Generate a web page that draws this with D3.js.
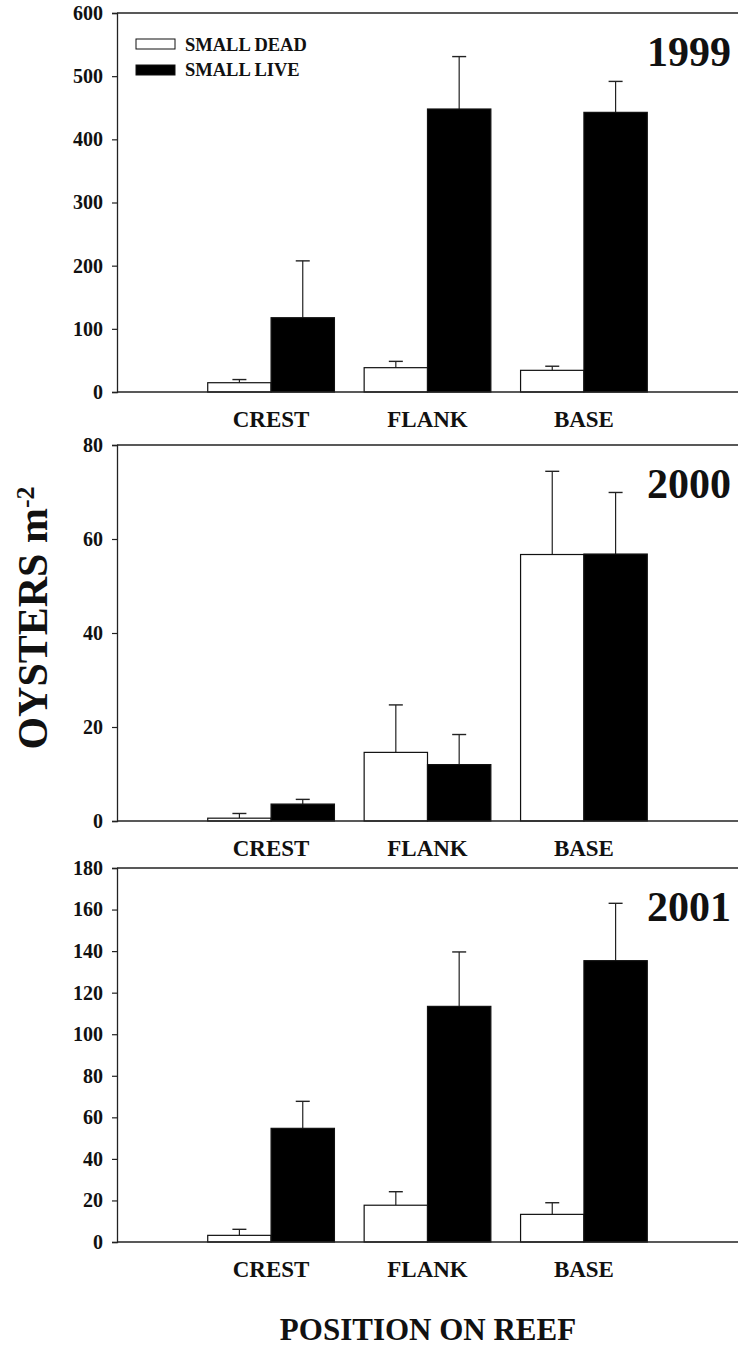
<!DOCTYPE html>
<html>
<head>
<meta charset="utf-8">
<script src="https://cdn.jsdelivr.net/npm/d3@7"></script>
<style>
  body { margin: 0; background: #fff; }
  svg { display: block; }
  text { font-family: "Liberation Serif", "Times New Roman", serif; font-weight: bold; fill: #111; }
</style>
</head>
<body>
<div id="viz"></div>
<script>
// reef positions and the two size classes
var positions = ["CREST", "FLANK", "BASE"];
var seriesNames = ["SMALL DEAD", "SMALL LIVE"];
var years = ["1999", "2000", "2001"];

// mean oysters per m2 and the error bar lengths
var dead1999 = [14.7, 38.5, 34.3];
var deadErr1999 = [5, 10, 6.5];
var live1999 = [117.6, 448, 442.7];
var liveErr1999 = [90, 83, 49];

var dead2000 = [0.6, 14.6, 56.7];
var deadErr2000 = [1.0, 10.1, 17.7];
var live2000 = [3.6, 12.0, 56.8];
var liveErr2000 = [1.0, 6.4, 13.1];

var dead2001 = [3.2, 17.7, 13.3];
var deadErr2001 = [2.9, 6.5, 5.6];
var live2001 = [54.7, 113.4, 135.4];
var liveErr2001 = [13.0, 26.2, 27.6];

// y axis ticks for each panel
var ticks1999 = [0, 100, 200, 300, 400, 500, 600];
var ticks2000 = [0, 20, 40, 60, 80];
var ticks2001 = [0, 20, 40, 60, 80, 100, 120, 140, 160, 180];

var panels = [
  { year: years[0], dead: dead1999, deadErr: deadErr1999, live: live1999, liveErr: liveErr1999, ticks: ticks1999, top: 13, bottom: 392 },
  { year: years[1], dead: dead2000, deadErr: deadErr2000, live: live2000, liveErr: liveErr2000, ticks: ticks2000, top: 445, bottom: 821 },
  { year: years[2], dead: dead2001, deadErr: deadErr2001, live: live2001, liveErr: liveErr2001, ticks: ticks2001, top: 868, bottom: 1242 }
];

var w = 738;
var h = 1347;
var left = 117;
var right = 738;

var svg = d3.select("div#viz")
  .append("svg")
  .attr("width", w)
  .attr("height", h);

// category scale shared by all panels
var x0 = d3.scaleBand().domain(positions).range([left, right]).paddingInner(0.19).paddingOuter(0.58);
var x1 = d3.scaleBand().domain(seriesNames).range([0, x0.bandwidth()]);
var fills = ["#ffffff", "#000000"];

panels.forEach(function (p) {
  var y = d3.scaleLinear()
    .domain([0, d3.max(p.ticks)])
    .range([p.bottom, p.top]);

  var g = svg.append("g");

  // top frame line
  g.append("line")
    .attr("x1", left).attr("x2", right)
    .attr("y1", p.top).attr("y2", p.top)
    .attr("stroke", "#222").attr("stroke-width", 1.3);

  // y axis
  var yAxis = d3.axisLeft(y).tickValues(p.ticks).tickSize(5).tickPadding(9).tickFormat(d3.format("d"));
  var ya = g.append("g")
    .attr("transform", "translate(" + left + ",0)")
    .call(yAxis);
  ya.select(".domain").attr("stroke", "#222").attr("stroke-width", 1.3);
  ya.selectAll(".tick line").attr("stroke", "#222").attr("stroke-width", 1.2);
  ya.selectAll(".tick text")
    .style("font-family", "'Liberation Serif', serif")
    .style("font-weight", "bold")
    .style("font-size", "20px")
    .attr("fill", "#111");

  // bars
  var rows = positions.map(function (pos, i) {
    return [
      { pos: pos, s: seriesNames[0], v: p.dead[i], e: p.deadErr[i] },
      { pos: pos, s: seriesNames[1], v: p.live[i], e: p.liveErr[i] }
    ];
  });
  var flat = [].concat.apply([], rows);

  // error bars drawn first so the bar covers the lower part
  var eb = g.selectAll("g.err").data(flat).enter().append("g");
  eb.append("line")
    .attr("x1", function (d) { return x0(d.pos) + x1(d.s) + x1.bandwidth() / 2; })
    .attr("x2", function (d) { return x0(d.pos) + x1(d.s) + x1.bandwidth() / 2; })
    .attr("y1", function (d) { return y(d.v); })
    .attr("y2", function (d) { return y(d.v + d.e); })
    .attr("stroke", "#222").attr("stroke-width", 1.2);
  eb.append("line")
    .attr("x1", function (d) { return x0(d.pos) + x1(d.s) + x1.bandwidth() / 2 - 7; })
    .attr("x2", function (d) { return x0(d.pos) + x1(d.s) + x1.bandwidth() / 2 + 7; })
    .attr("y1", function (d) { return y(d.v + d.e); })
    .attr("y2", function (d) { return y(d.v + d.e); })
    .attr("stroke", "#222").attr("stroke-width", 1.4);

  g.selectAll("rect.bar").data(flat).enter().append("rect")
    .attr("x", function (d) { return x0(d.pos) + x1(d.s); })
    .attr("y", function (d) { return y(d.v); })
    .attr("width", x1.bandwidth())
    .attr("height", function (d) { return y(0) - y(d.v); })
    .attr("fill", function (d) { return fills[seriesNames.indexOf(d.s)]; })
    .attr("stroke", "#111")
    .attr("stroke-width", 1.2);

  // baseline
  g.append("line")
    .attr("x1", left).attr("x2", right)
    .attr("y1", y(0)).attr("y2", y(0))
    .attr("stroke", "#222").attr("stroke-width", 1.4);

  // category labels
  g.selectAll("text.cat").data(positions).enter().append("text")
    .attr("x", function (d) { return x0(d) + x0.bandwidth() / 2; })
    .attr("y", p.bottom + 35)
    .attr("text-anchor", "middle")
    .style("font-size", "23px")
    .text(function (d) { return d; });

  // year label
  g.append("text")
    .attr("x", 731)
    .attr("y", p.top + 53)
    .attr("text-anchor", "end")
    .style("font-size", "42px")
    .text(p.year);
});

// legend in the first panel
var legend = svg.append("g");
seriesNames.forEach(function (s, i) {
  legend.append("rect")
    .attr("x", 136).attr("y", 39 + i * 26)
    .attr("width", 39).attr("height", 10)
    .attr("fill", fills[i]).attr("stroke", "#111").attr("stroke-width", 1);
  legend.append("text")
    .attr("x", 185).attr("y", 51 + i * 25)
    .style("font-size", "18.5px")
    .text(s);
});

// y axis title
var yt = svg.append("text")
  .attr("transform", "translate(47,618) rotate(-90)")
  .attr("text-anchor", "middle")
  .style("font-size", "42px");
yt.append("tspan").text("OYSTERS m");
yt.append("tspan").attr("dy", "-0.5em").style("font-size", "26px").text("-2");

// x axis title
svg.append("text")
  .attr("x", 428)
  .attr("y", 1340)
  .attr("text-anchor", "middle")
  .style("font-size", "31px")
  .text("POSITION ON REEF");
</script>
</body>
</html>
